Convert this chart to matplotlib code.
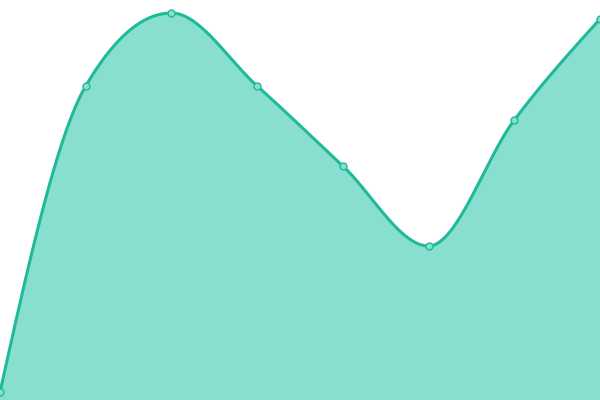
import numpy as np
import matplotlib
matplotlib.use('Agg')
from matplotlib import pyplot as plt

# data
x_vals = [0, 1, 2, 3, 4, 5, 6, 7]
y_vals = [2, 78.5, 96.75, 78.5, 58.5, 38.5, 70, 95.25]

line_color = '#1fba98'
fill_color = '#89dfcf'


def monotone_x(xs, ys, n=40):
    # d3 style curveMonotoneX
    xs = np.asarray(xs, float)
    ys = np.asarray(ys, float)
    m = len(xs)
    h = np.diff(xs)
    s = np.diff(ys) / h
    t = np.zeros(m)
    for i in range(1, m - 1):
        p = (s[i - 1] * h[i] + s[i] * h[i - 1]) / (h[i - 1] + h[i])
        t[i] = (np.sign(s[i - 1]) + np.sign(s[i])) * min(abs(s[i - 1]), abs(s[i]), 0.5 * abs(p))
    t[0] = (3 * s[0] - t[1]) / 2
    t[-1] = (3 * s[-1] - t[-2]) / 2
    px, py = [], []
    u = np.linspace(0, 1, n)
    for i in range(m - 1):
        dx = h[i] / 3
        x0, x1, x2, x3 = xs[i], xs[i] + dx, xs[i + 1] - dx, xs[i + 1]
        y0, y1, y2, y3 = ys[i], ys[i] + dx * t[i], ys[i + 1] - dx * t[i + 1], ys[i + 1]
        bx = (1 - u) ** 3 * x0 + 3 * (1 - u) ** 2 * u * x1 + 3 * (1 - u) * u ** 2 * x2 + u ** 3 * x3
        by = (1 - u) ** 3 * y0 + 3 * (1 - u) ** 2 * u * y1 + 3 * (1 - u) * u ** 2 * y2 + u ** 3 * y3
        px.extend(bx)
        py.extend(by)
    return np.array(px), np.array(py)


cx, cy = monotone_x(x_vals, y_vals)

fig = plt.figure(figsize=(6, 4), dpi=100)
ax = fig.add_axes([0, 0, 1, 1])

ax.fill_between(cx, cy, 0, color=fill_color, lw=0)
ax.plot(cx, cy, color=line_color, lw=2.2, solid_capstyle='round')
ax.plot(x_vals, y_vals, 'o', ms=5, mfc=fill_color, mec=line_color, mew=1, clip_on=False)

ax.set_xlim(0, 7)
ax.set_ylim(0, 100)
ax.axis('off')

fig.savefig('out.png', dpi=100)
